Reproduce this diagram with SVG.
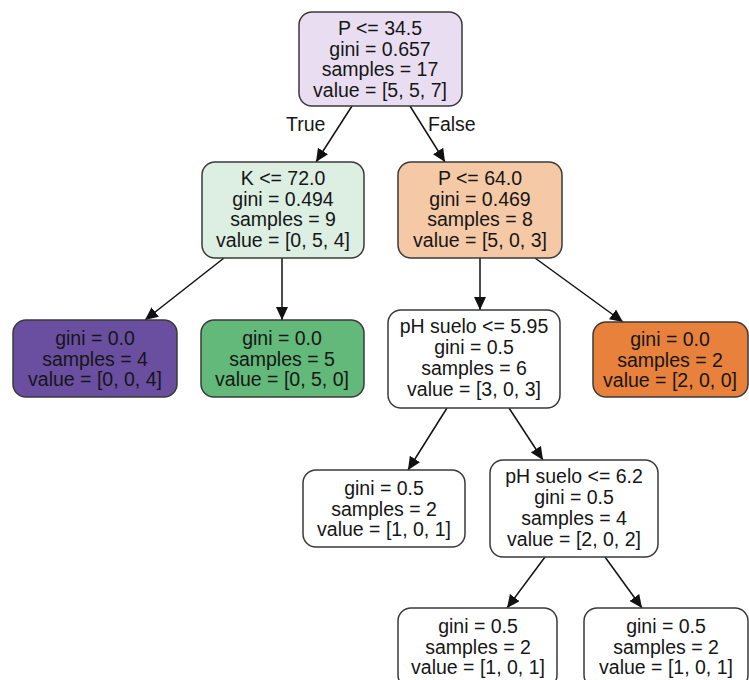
<svg xmlns="http://www.w3.org/2000/svg" width="749" height="680" viewBox="0 0 749 680">
<style>
  .box { stroke: #3a3a3a; stroke-width: 1.5; }
  text { font-family: "Liberation Sans", Arial, sans-serif; font-size: 19.5px; fill: #161616; text-anchor: middle; }
  .edge { stroke: #111; stroke-width: 1.5; fill: none; marker-end: url(#arr); }
  .lbl { text-anchor: start; }
</style>
<defs>
  <marker id="arr" markerUnits="userSpaceOnUse" markerWidth="16" markerHeight="14" refX="13" refY="6" orient="auto">
    <path d="M0,0 L13,6 L0,12 Z" fill="#111"/>
  </marker>
</defs>
<rect width="749" height="680" fill="#ffffff"/>
<g id="connectors">
  <line class="edge" x1="352" y1="106" x2="316" y2="162"/>
  <line class="edge" x1="410" y1="106" x2="445" y2="162"/>
  <line class="edge" x1="224" y1="258" x2="145" y2="320"/>
  <line class="edge" x1="282" y1="258" x2="282" y2="320"/>
  <line class="edge" x1="480" y1="258" x2="480" y2="310"/>
  <line class="edge" x1="535" y1="258" x2="623" y2="322"/>
  <line class="edge" x1="447" y1="408" x2="408" y2="470"/>
  <line class="edge" x1="509" y1="408" x2="543" y2="460"/>
  <line class="edge" x1="545" y1="557" x2="507" y2="608"/>
  <line class="edge" x1="605" y1="557" x2="642" y2="608"/>
  <text class="lbl" x="286" y="131">True</text>
  <text class="lbl" x="428" y="131">False</text>
</g>
<g id="n0">
  <rect class="box" x="299" y="12" width="163" height="94" rx="13" fill="#e9def1"/>
  <text x="380" y="35">P &lt;= 34.5</text>
  <text x="380" y="56">gini = 0.657</text>
  <text x="380" y="76">samples = 17</text>
  <text x="380" y="97">value = [5, 5, 7]</text>
</g>
<g id="n1">
  <rect class="box" x="202" y="162" width="162" height="96" rx="13" fill="#dcefe2"/>
  <text x="283" y="185">K &lt;= 72.0</text>
  <text x="283" y="206">gini = 0.494</text>
  <text x="283" y="226">samples = 9</text>
  <text x="283" y="247">value = [0, 5, 4]</text>
</g>
<g id="n2">
  <rect class="box" x="398" y="162" width="164" height="96" rx="13" fill="#f5c9a6"/>
  <text x="480" y="185">P &lt;= 64.0</text>
  <text x="480" y="206">gini = 0.469</text>
  <text x="480" y="226">samples = 8</text>
  <text x="480" y="247">value = [5, 0, 3]</text>
</g>
<g id="n3">
  <rect class="box" x="13" y="320" width="164" height="77" rx="13" fill="#6a4ea0"/>
  <text x="95" y="345">gini = 0.0</text>
  <text x="95" y="366">samples = 4</text>
  <text x="95" y="386">value = [0, 0, 4]</text>
</g>
<g id="n4">
  <rect class="box" x="201" y="320" width="163" height="77" rx="13" fill="#62b979"/>
  <text x="282" y="345">gini = 0.0</text>
  <text x="282" y="366">samples = 5</text>
  <text x="282" y="386">value = [0, 5, 0]</text>
</g>
<g id="n5">
  <rect class="box" x="388" y="310" width="172" height="98" rx="13" fill="#ffffff"/>
  <text x="474" y="333">pH suelo &lt;= 5.95</text>
  <text x="474" y="354">gini = 0.5</text>
  <text x="474" y="375">samples = 6</text>
  <text x="474" y="396">value = [3, 0, 3]</text>
</g>
<g id="n6">
  <rect class="box" x="593" y="322" width="155" height="75" rx="13" fill="#e8813b"/>
  <text x="670" y="346">gini = 0.0</text>
  <text x="670" y="367">samples = 2</text>
  <text x="670" y="387">value = [2, 0, 0]</text>
</g>
<g id="n7">
  <rect class="box" x="303" y="470" width="162" height="77" rx="13" fill="#ffffff"/>
  <text x="384" y="495">gini = 0.5</text>
  <text x="384" y="516">samples = 2</text>
  <text x="384" y="536">value = [1, 0, 1]</text>
</g>
<g id="n8">
  <rect class="box" x="490" y="460" width="168" height="97" rx="13" fill="#ffffff"/>
  <text x="574" y="483">pH suelo &lt;= 6.2</text>
  <text x="574" y="504">gini = 0.5</text>
  <text x="574" y="525">samples = 4</text>
  <text x="574" y="546">value = [2, 0, 2]</text>
</g>
<g id="n9">
  <rect class="box" x="398" y="608" width="159" height="80" rx="13" fill="#ffffff"/>
  <text x="478" y="633">gini = 0.5</text>
  <text x="478" y="654">samples = 2</text>
  <text x="478" y="674">value = [1, 0, 1]</text>
</g>
<g id="n10">
  <rect class="box" x="584" y="608" width="164" height="80" rx="13" fill="#ffffff"/>
  <text x="666" y="633">gini = 0.5</text>
  <text x="666" y="654">samples = 2</text>
  <text x="666" y="674">value = [1, 0, 1]</text>
</g>
</svg>
